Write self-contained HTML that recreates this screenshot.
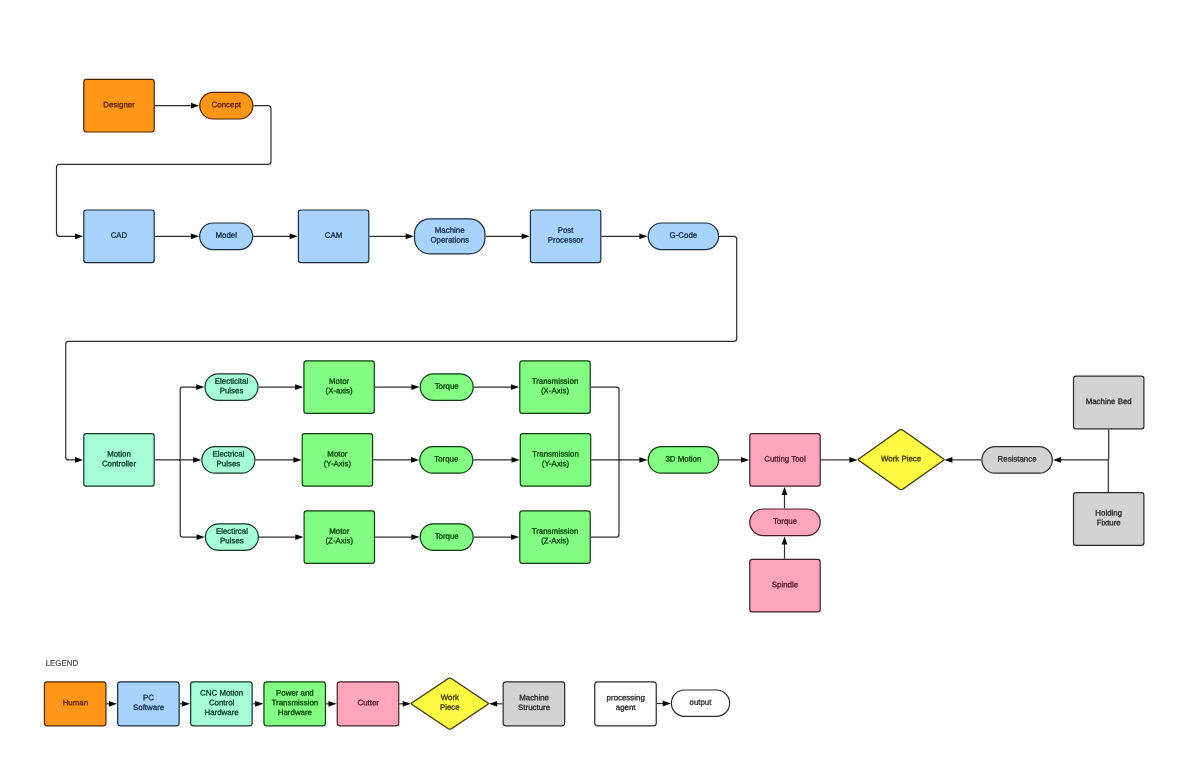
<!DOCTYPE html>
<html lang="en">
<head>
<meta charset="utf-8">
<title>CNC Process Flow</title>
<style>
html,body{margin:0;padding:0;background:#fff;}
body{width:1200px;height:776px;overflow:hidden;}
svg{display:block;will-change:transform;}
svg text{font-family:"Liberation Sans",sans-serif;stroke-width:0.3px;text-rendering:geometricPrecision;}
</style>
</head>
<body>
<svg role="img" aria-label="CNC machining process flow diagram" width="1200" height="776" viewBox="0 0 1200 776">
<rect x="0" y="0" width="1200" height="776" fill="#ffffff"/>
<path d="M154.80 105.70 L192.64 105.70" fill="none" stroke="#2e2e2e" stroke-width="1.2"/>
<path d="M199.20 105.70 L191.00 108.60 L191.00 102.80 Z" fill="#0a0a0a"/>
<path d="M253.40 105.70 L268.00 105.70 Q271.00 105.70 271.00 108.70 L271.00 161.45 Q271.00 164.45 268.00 164.45 L59.50 164.45 Q56.50 164.45 56.50 167.45 L56.50 233.30 Q56.50 236.30 59.50 236.30 L76.64 236.30" fill="none" stroke="#2e2e2e" stroke-width="1.2"/>
<path d="M83.20 236.30 L75.00 239.20 L75.00 233.40 Z" fill="#0a0a0a"/>
<path d="M154.80 236.30 L192.54 236.30" fill="none" stroke="#2e2e2e" stroke-width="1.2"/>
<path d="M199.10 236.30 L190.90 239.20 L190.90 233.40 Z" fill="#0a0a0a"/>
<path d="M253.30 236.30 L291.24 236.30" fill="none" stroke="#2e2e2e" stroke-width="1.2"/>
<path d="M297.80 236.30 L289.60 239.20 L289.60 233.40 Z" fill="#0a0a0a"/>
<path d="M369.40 236.30 L407.34 236.30" fill="none" stroke="#2e2e2e" stroke-width="1.2"/>
<path d="M413.90 236.30 L405.70 239.20 L405.70 233.40 Z" fill="#0a0a0a"/>
<path d="M485.50 236.30 L523.24 236.30" fill="none" stroke="#2e2e2e" stroke-width="1.2"/>
<path d="M529.80 236.30 L521.60 239.20 L521.60 233.40 Z" fill="#0a0a0a"/>
<path d="M601.40 236.30 L641.04 236.30" fill="none" stroke="#2e2e2e" stroke-width="1.2"/>
<path d="M647.60 236.30 L639.40 239.20 L639.40 233.40 Z" fill="#0a0a0a"/>
<path d="M719.20 236.30 L733.70 236.30 Q736.70 236.30 736.70 239.30 L736.70 338.45 Q736.70 341.45 733.70 341.45 L68.70 341.45 Q65.70 341.45 65.70 344.45 L65.70 456.90 Q65.70 459.90 68.70 459.90 L76.64 459.90" fill="none" stroke="#2e2e2e" stroke-width="1.2"/>
<path d="M83.20 459.90 L75.00 462.80 L75.00 457.00 Z" fill="#0a0a0a"/>
<path d="M154.80 459.90 L194.74 459.90" fill="none" stroke="#2e2e2e" stroke-width="1.2"/>
<path d="M201.30 459.90 L193.10 462.80 L193.10 457.00 Z" fill="#0a0a0a"/>
<path d="M180.20 459.90 L180.20 389.60 Q180.20 387.10 182.70 387.10 L197.84 387.10" fill="none" stroke="#2e2e2e" stroke-width="1.2"/>
<path d="M204.40 387.10 L196.20 390.00 L196.20 384.20 Z" fill="#0a0a0a"/>
<path d="M180.20 459.90 L180.20 534.60 Q180.20 537.10 182.70 537.10 L198.24 537.10" fill="none" stroke="#2e2e2e" stroke-width="1.2"/>
<path d="M204.80 537.10 L196.60 540.00 L196.60 534.20 Z" fill="#0a0a0a"/>
<circle cx="179.70" cy="459.90" r="1.0" fill="#2e2e2e"/>
<path d="M258.60 387.10 L296.74 387.10" fill="none" stroke="#2e2e2e" stroke-width="1.2"/>
<path d="M303.30 387.10 L295.10 390.00 L295.10 384.20 Z" fill="#0a0a0a"/>
<path d="M255.50 459.90 L295.04 459.90" fill="none" stroke="#2e2e2e" stroke-width="1.2"/>
<path d="M301.60 459.90 L293.40 462.80 L293.40 457.00 Z" fill="#0a0a0a"/>
<path d="M259.00 537.10 L296.94 537.10" fill="none" stroke="#2e2e2e" stroke-width="1.2"/>
<path d="M303.50 537.10 L295.30 540.00 L295.30 534.20 Z" fill="#0a0a0a"/>
<path d="M374.90 387.10 L413.04 387.10" fill="none" stroke="#2e2e2e" stroke-width="1.2"/>
<path d="M419.60 387.10 L411.40 390.00 L411.40 384.20 Z" fill="#0a0a0a"/>
<path d="M373.20 459.90 L412.64 459.90" fill="none" stroke="#2e2e2e" stroke-width="1.2"/>
<path d="M419.20 459.90 L411.00 462.80 L411.00 457.00 Z" fill="#0a0a0a"/>
<path d="M375.10 537.10 L413.04 537.10" fill="none" stroke="#2e2e2e" stroke-width="1.2"/>
<path d="M419.60 537.10 L411.40 540.00 L411.40 534.20 Z" fill="#0a0a0a"/>
<path d="M473.80 387.10 L512.64 387.10" fill="none" stroke="#2e2e2e" stroke-width="1.2"/>
<path d="M519.20 387.10 L511.00 390.00 L511.00 384.20 Z" fill="#0a0a0a"/>
<path d="M473.40 459.90 L513.14 459.90" fill="none" stroke="#2e2e2e" stroke-width="1.2"/>
<path d="M519.70 459.90 L511.50 462.80 L511.50 457.00 Z" fill="#0a0a0a"/>
<path d="M473.80 537.10 L512.64 537.10" fill="none" stroke="#2e2e2e" stroke-width="1.2"/>
<path d="M519.20 537.10 L511.00 540.00 L511.00 534.20 Z" fill="#0a0a0a"/>
<path d="M590.80 387.10 L616.50 387.10 Q619.00 387.10 619.00 389.60 L619.00 459.90" fill="none" stroke="#2e2e2e" stroke-width="1.2"/>
<path d="M590.80 537.10 L616.50 537.10 Q619.00 537.10 619.00 534.60 L619.00 459.90" fill="none" stroke="#2e2e2e" stroke-width="1.2"/>
<circle cx="619.50" cy="459.90" r="1.0" fill="#2e2e2e"/>
<path d="M591.30 459.90 L641.04 459.90" fill="none" stroke="#2e2e2e" stroke-width="1.2"/>
<path d="M647.60 459.90 L639.40 462.80 L639.40 457.00 Z" fill="#0a0a0a"/>
<path d="M719.20 459.90 L742.64 459.90" fill="none" stroke="#2e2e2e" stroke-width="1.2"/>
<path d="M749.20 459.90 L741.00 462.80 L741.00 457.00 Z" fill="#0a0a0a"/>
<path d="M820.80 459.90 L851.04 459.90" fill="none" stroke="#2e2e2e" stroke-width="1.2"/>
<path d="M857.60 459.90 L849.40 462.80 L849.40 457.00 Z" fill="#0a0a0a"/>
<path d="M981.30 459.90 L950.76 459.90" fill="none" stroke="#2e2e2e" stroke-width="1.2"/>
<path d="M944.20 459.90 L952.40 457.00 L952.40 462.80 Z" fill="#0a0a0a"/>
<path d="M1108.70 429.40 L1108.70 458.70 Q1108.70 459.90 1107.50 459.90 L1059.46 459.90" fill="none" stroke="#2e2e2e" stroke-width="1.2"/>
<path d="M1052.90 459.90 L1061.10 457.00 L1061.10 462.80 Z" fill="#0a0a0a"/>
<path d="M1108.30 492.10 L1108.30 459.90" fill="none" stroke="#2e2e2e" stroke-width="1.2"/>
<path d="M784.50 558.70 L784.50 542.76" fill="none" stroke="#2e2e2e" stroke-width="1.2"/>
<path d="M784.50 536.20 L787.40 544.40 L781.60 544.40 Z" fill="#0a0a0a"/>
<path d="M784.50 508.40 L784.50 493.36" fill="none" stroke="#2e2e2e" stroke-width="1.2"/>
<path d="M784.50 486.80 L787.40 495.00 L781.60 495.00 Z" fill="#0a0a0a"/>
<rect x="83.80" y="79.40" width="70.40" height="52.60" rx="2.4" ry="2.4" fill="#FE9718" stroke="#4d2300" stroke-width="1.2"/>
<text x="119.00" y="107.25" transform="rotate(0.03 119.00 107.25)" font-size="7.9" text-anchor="middle" fill="#5c1e00" stroke="#5c1e00">Designer</text>
<rect x="199.80" y="92.40" width="53.00" height="26.60" rx="13.30" ry="13.30" fill="#FE9718" stroke="#4d2300" stroke-width="1.2"/>
<text x="226.30" y="107.25" transform="rotate(0.03 226.30 107.25)" font-size="7.9" text-anchor="middle" fill="#5c1e00" stroke="#5c1e00">Concept</text>
<rect x="83.80" y="210.00" width="70.40" height="52.60" rx="2.4" ry="2.4" fill="#A7D3FC" stroke="#1c2d3e" stroke-width="1.2"/>
<text x="119.00" y="237.85" transform="rotate(0.03 119.00 237.85)" font-size="7.9" text-anchor="middle" fill="#132d46" stroke="#132d46">CAD</text>
<rect x="199.70" y="223.00" width="53.00" height="26.60" rx="13.30" ry="13.30" fill="#A7D3FC" stroke="#1c2d3e" stroke-width="1.2"/>
<text x="226.20" y="237.85" transform="rotate(0.03 226.20 237.85)" font-size="7.9" text-anchor="middle" fill="#132d46" stroke="#132d46">Model</text>
<rect x="298.40" y="210.00" width="70.40" height="52.60" rx="2.4" ry="2.4" fill="#A7D3FC" stroke="#1c2d3e" stroke-width="1.2"/>
<text x="333.60" y="237.85" transform="rotate(0.03 333.60 237.85)" font-size="7.9" text-anchor="middle" fill="#132d46" stroke="#132d46">CAM</text>
<rect x="414.50" y="218.80" width="70.40" height="35.00" rx="15.30" ry="15.30" fill="#A7D3FC" stroke="#1c2d3e" stroke-width="1.2"/>
<text x="449.70" y="232.85" transform="rotate(0.03 449.70 232.85)" font-size="7.9" text-anchor="middle" fill="#132d46" stroke="#132d46">Machine</text>
<text x="449.70" y="242.55" transform="rotate(0.03 449.70 242.55)" font-size="7.9" text-anchor="middle" fill="#132d46" stroke="#132d46">Operations</text>
<rect x="530.40" y="210.00" width="70.40" height="52.60" rx="2.4" ry="2.4" fill="#A7D3FC" stroke="#1c2d3e" stroke-width="1.2"/>
<text x="565.60" y="232.85" transform="rotate(0.03 565.60 232.85)" font-size="7.9" text-anchor="middle" fill="#132d46" stroke="#132d46">Post</text>
<text x="565.60" y="242.55" transform="rotate(0.03 565.60 242.55)" font-size="7.9" text-anchor="middle" fill="#132d46" stroke="#132d46">Processor</text>
<rect x="648.20" y="223.00" width="70.40" height="26.60" rx="13.30" ry="13.30" fill="#A7D3FC" stroke="#1c2d3e" stroke-width="1.2"/>
<text x="683.40" y="237.85" transform="rotate(0.03 683.40 237.85)" font-size="7.9" text-anchor="middle" fill="#132d46" stroke="#132d46">G-Code</text>
<rect x="83.80" y="433.60" width="70.40" height="52.60" rx="2.4" ry="2.4" fill="#A6FCD6" stroke="#143627" stroke-width="1.2"/>
<text x="119.00" y="456.45" transform="rotate(0.03 119.00 456.45)" font-size="7.9" text-anchor="middle" fill="#063a23" stroke="#063a23">Motion</text>
<text x="119.00" y="466.15" transform="rotate(0.03 119.00 466.15)" font-size="7.9" text-anchor="middle" fill="#063a23" stroke="#063a23">Controller</text>
<rect x="205.00" y="373.80" width="53.00" height="26.60" rx="13.30" ry="13.30" fill="#A6FCD6" stroke="#143627" stroke-width="1.2"/>
<text x="231.50" y="383.65" transform="rotate(0.03 231.50 383.65)" font-size="7.9" text-anchor="middle" fill="#063a23" stroke="#063a23">Electicital</text>
<text x="231.50" y="393.35" transform="rotate(0.03 231.50 393.35)" font-size="7.9" text-anchor="middle" fill="#063a23" stroke="#063a23">Pulses</text>
<rect x="201.90" y="446.60" width="53.00" height="26.60" rx="13.30" ry="13.30" fill="#A6FCD6" stroke="#143627" stroke-width="1.2"/>
<text x="228.40" y="456.45" transform="rotate(0.03 228.40 456.45)" font-size="7.9" text-anchor="middle" fill="#063a23" stroke="#063a23">Electrical</text>
<text x="228.40" y="466.15" transform="rotate(0.03 228.40 466.15)" font-size="7.9" text-anchor="middle" fill="#063a23" stroke="#063a23">Pulses</text>
<rect x="205.40" y="523.80" width="53.00" height="26.60" rx="13.30" ry="13.30" fill="#A6FCD6" stroke="#143627" stroke-width="1.2"/>
<text x="231.90" y="533.65" transform="rotate(0.03 231.90 533.65)" font-size="7.9" text-anchor="middle" fill="#063a23" stroke="#063a23">Electircal</text>
<text x="231.90" y="543.35" transform="rotate(0.03 231.90 543.35)" font-size="7.9" text-anchor="middle" fill="#063a23" stroke="#063a23">Pulses</text>
<rect x="303.90" y="360.80" width="70.40" height="52.60" rx="2.4" ry="2.4" fill="#83FD83" stroke="#0d3e0d" stroke-width="1.2"/>
<text x="339.10" y="383.65" transform="rotate(0.03 339.10 383.65)" font-size="7.9" text-anchor="middle" fill="#004600" stroke="#004600">Motor</text>
<text x="339.10" y="393.35" transform="rotate(0.03 339.10 393.35)" font-size="7.9" text-anchor="middle" fill="#004600" stroke="#004600">(X-axis)</text>
<rect x="302.20" y="433.60" width="70.40" height="52.60" rx="2.4" ry="2.4" fill="#83FD83" stroke="#0d3e0d" stroke-width="1.2"/>
<text x="337.40" y="456.45" transform="rotate(0.03 337.40 456.45)" font-size="7.9" text-anchor="middle" fill="#004600" stroke="#004600">Motor</text>
<text x="337.40" y="466.15" transform="rotate(0.03 337.40 466.15)" font-size="7.9" text-anchor="middle" fill="#004600" stroke="#004600">(Y-Axis)</text>
<rect x="304.10" y="510.80" width="70.40" height="52.60" rx="2.4" ry="2.4" fill="#83FD83" stroke="#0d3e0d" stroke-width="1.2"/>
<text x="339.30" y="533.65" transform="rotate(0.03 339.30 533.65)" font-size="7.9" text-anchor="middle" fill="#004600" stroke="#004600">Motor</text>
<text x="339.30" y="543.35" transform="rotate(0.03 339.30 543.35)" font-size="7.9" text-anchor="middle" fill="#004600" stroke="#004600">(Z-Axis)</text>
<rect x="420.20" y="373.80" width="53.00" height="26.60" rx="13.30" ry="13.30" fill="#83FD83" stroke="#0d3e0d" stroke-width="1.2"/>
<text x="446.70" y="388.65" transform="rotate(0.03 446.70 388.65)" font-size="7.9" text-anchor="middle" fill="#004600" stroke="#004600">Torque</text>
<rect x="419.80" y="446.60" width="53.00" height="26.60" rx="13.30" ry="13.30" fill="#83FD83" stroke="#0d3e0d" stroke-width="1.2"/>
<text x="446.30" y="461.45" transform="rotate(0.03 446.30 461.45)" font-size="7.9" text-anchor="middle" fill="#004600" stroke="#004600">Torque</text>
<rect x="420.20" y="523.80" width="53.00" height="26.60" rx="13.30" ry="13.30" fill="#83FD83" stroke="#0d3e0d" stroke-width="1.2"/>
<text x="446.70" y="538.65" transform="rotate(0.03 446.70 538.65)" font-size="7.9" text-anchor="middle" fill="#004600" stroke="#004600">Torque</text>
<rect x="519.80" y="360.80" width="70.40" height="52.60" rx="2.4" ry="2.4" fill="#83FD83" stroke="#0d3e0d" stroke-width="1.2"/>
<text x="555.00" y="383.65" transform="rotate(0.03 555.00 383.65)" font-size="7.9" text-anchor="middle" fill="#004600" stroke="#004600">Transmission</text>
<text x="555.00" y="393.35" transform="rotate(0.03 555.00 393.35)" font-size="7.9" text-anchor="middle" fill="#004600" stroke="#004600">(X-Axis)</text>
<rect x="520.30" y="433.60" width="70.40" height="52.60" rx="2.4" ry="2.4" fill="#83FD83" stroke="#0d3e0d" stroke-width="1.2"/>
<text x="555.50" y="456.45" transform="rotate(0.03 555.50 456.45)" font-size="7.9" text-anchor="middle" fill="#004600" stroke="#004600">Transmission</text>
<text x="555.50" y="466.15" transform="rotate(0.03 555.50 466.15)" font-size="7.9" text-anchor="middle" fill="#004600" stroke="#004600">(Y-Axis)</text>
<rect x="519.80" y="510.80" width="70.40" height="52.60" rx="2.4" ry="2.4" fill="#83FD83" stroke="#0d3e0d" stroke-width="1.2"/>
<text x="555.00" y="533.65" transform="rotate(0.03 555.00 533.65)" font-size="7.9" text-anchor="middle" fill="#004600" stroke="#004600">Transmission</text>
<text x="555.00" y="543.35" transform="rotate(0.03 555.00 543.35)" font-size="7.9" text-anchor="middle" fill="#004600" stroke="#004600">(Z-Axis)</text>
<rect x="648.20" y="446.60" width="70.40" height="26.60" rx="13.30" ry="13.30" fill="#83FD83" stroke="#0d3e0d" stroke-width="1.2"/>
<text x="683.40" y="461.45" transform="rotate(0.03 683.40 461.45)" font-size="7.9" text-anchor="middle" fill="#004600" stroke="#004600">3D Motion</text>
<rect x="749.80" y="433.60" width="70.40" height="52.60" rx="2.4" ry="2.4" fill="#FFA6BD" stroke="#421e28" stroke-width="1.2"/>
<text x="785.00" y="461.45" transform="rotate(0.03 785.00 461.45)" font-size="7.9" text-anchor="middle" fill="#4c1624" stroke="#4c1624">Cutting Tool</text>
<rect x="749.80" y="509.00" width="70.40" height="26.60" rx="13.30" ry="13.30" fill="#FFA6BD" stroke="#421e28" stroke-width="1.2"/>
<text x="785.00" y="523.85" transform="rotate(0.03 785.00 523.85)" font-size="7.9" text-anchor="middle" fill="#4c1624" stroke="#4c1624">Torque</text>
<rect x="749.80" y="559.30" width="70.40" height="52.60" rx="2.4" ry="2.4" fill="#FFA6BD" stroke="#421e28" stroke-width="1.2"/>
<text x="785.00" y="587.15" transform="rotate(0.03 785.00 587.15)" font-size="7.9" text-anchor="middle" fill="#4c1624" stroke="#4c1624">Spindle</text>
<path d="M858.58 460.22 Q857.70 459.60 858.58 458.98 L899.19 430.25 Q901.10 428.90 903.01 430.25 L943.62 458.98 Q944.50 459.60 943.62 460.22 L903.01 488.95 Q901.10 490.30 899.19 488.95 Z" fill="#FFFB43" stroke="#343200" stroke-width="1.2" stroke-linejoin="round"/>
<text x="901.10" y="461.15" transform="rotate(0.03 901.10 461.15)" font-size="7.9" text-anchor="middle" fill="#363400" stroke="#363400">Work Piece</text>
<rect x="981.90" y="446.60" width="70.40" height="26.60" rx="13.30" ry="13.30" fill="#D3D3D3" stroke="#2a2a2a" stroke-width="1.2"/>
<text x="1017.10" y="461.45" transform="rotate(0.03 1017.10 461.45)" font-size="7.9" text-anchor="middle" fill="#282828" stroke="#282828">Resistance</text>
<rect x="1073.50" y="376.20" width="70.40" height="52.60" rx="2.4" ry="2.4" fill="#D3D3D3" stroke="#2a2a2a" stroke-width="1.2"/>
<text x="1108.70" y="404.05" transform="rotate(0.03 1108.70 404.05)" font-size="7.9" text-anchor="middle" fill="#282828" stroke="#282828">Machine Bed</text>
<rect x="1073.50" y="492.70" width="70.40" height="52.60" rx="2.4" ry="2.4" fill="#D3D3D3" stroke="#2a2a2a" stroke-width="1.2"/>
<text x="1108.70" y="515.55" transform="rotate(0.03 1108.70 515.55)" font-size="7.9" text-anchor="middle" fill="#282828" stroke="#282828">Holding</text>
<text x="1108.70" y="525.25" transform="rotate(0.03 1108.70 525.25)" font-size="7.9" text-anchor="middle" fill="#282828" stroke="#282828">Fixture</text>
<text x="45.70" y="665.70" transform="rotate(0.03 45.70 665.70)" font-size="7.9" text-anchor="start" fill="#333333" stroke="#333333" style="stroke-width:0.12px">LEGEND</text>
<path d="M106.55 703.80 L110.49 703.80" fill="none" stroke="#2e2e2e" stroke-width="1.2"/>
<path d="M117.05 703.80 L108.85 706.70 L108.85 700.90 Z" fill="#0a0a0a"/>
<path d="M179.75 703.80 L183.49 703.80" fill="none" stroke="#2e2e2e" stroke-width="1.2"/>
<path d="M190.05 703.80 L181.85 706.70 L181.85 700.90 Z" fill="#0a0a0a"/>
<path d="M252.75 703.80 L256.79 703.80" fill="none" stroke="#2e2e2e" stroke-width="1.2"/>
<path d="M263.35 703.80 L255.15 706.70 L255.15 700.90 Z" fill="#0a0a0a"/>
<path d="M326.05 703.80 L330.09 703.80" fill="none" stroke="#2e2e2e" stroke-width="1.2"/>
<path d="M336.65 703.80 L328.45 706.70 L328.45 700.90 Z" fill="#0a0a0a"/>
<path d="M399.35 703.80 L404.34 703.80" fill="none" stroke="#2e2e2e" stroke-width="1.2"/>
<path d="M410.90 703.80 L402.70 706.70 L402.70 700.90 Z" fill="#0a0a0a"/>
<path d="M502.55 703.80 L495.46 703.80" fill="none" stroke="#2e2e2e" stroke-width="1.2"/>
<path d="M488.90 703.80 L497.10 700.90 L497.10 706.70 Z" fill="#0a0a0a"/>
<path d="M656.85 703.50 L664.34 703.50" fill="none" stroke="#2e2e2e" stroke-width="1.2"/>
<path d="M670.90 703.50 L662.70 706.40 L662.70 700.60 Z" fill="#0a0a0a"/>
<rect x="44.45" y="681.80" width="61.50" height="44.00" rx="2.8" ry="2.8" fill="#FE9718" stroke="#4d2300" stroke-width="1.2"/>
<text x="75.40" y="705.35" transform="rotate(0.03 75.40 705.35)" font-size="7.9" text-anchor="middle" fill="#5c1e00" stroke="#5c1e00">Human</text>
<rect x="117.65" y="681.80" width="61.50" height="44.00" rx="2.8" ry="2.8" fill="#A7D3FC" stroke="#1c2d3e" stroke-width="1.2"/>
<text x="148.60" y="700.35" transform="rotate(0.03 148.60 700.35)" font-size="7.9" text-anchor="middle" fill="#132d46" stroke="#132d46">PC</text>
<text x="148.60" y="710.05" transform="rotate(0.03 148.60 710.05)" font-size="7.9" text-anchor="middle" fill="#132d46" stroke="#132d46">Software</text>
<rect x="190.65" y="681.80" width="61.50" height="44.00" rx="2.8" ry="2.8" fill="#A6FCD6" stroke="#143627" stroke-width="1.2"/>
<text x="221.60" y="695.50" transform="rotate(0.03 221.60 695.50)" font-size="7.9" text-anchor="middle" fill="#063a23" stroke="#063a23">CNC Motion</text>
<text x="221.60" y="705.20" transform="rotate(0.03 221.60 705.20)" font-size="7.9" text-anchor="middle" fill="#063a23" stroke="#063a23">Control</text>
<text x="221.60" y="714.90" transform="rotate(0.03 221.60 714.90)" font-size="7.9" text-anchor="middle" fill="#063a23" stroke="#063a23">Hardware</text>
<rect x="263.95" y="681.80" width="61.50" height="44.00" rx="2.8" ry="2.8" fill="#83FD83" stroke="#0d3e0d" stroke-width="1.2"/>
<text x="294.90" y="695.50" transform="rotate(0.03 294.90 695.50)" font-size="7.9" text-anchor="middle" fill="#004600" stroke="#004600">Power and</text>
<text x="294.90" y="705.20" transform="rotate(0.03 294.90 705.20)" font-size="7.9" text-anchor="middle" fill="#004600" stroke="#004600">Transmission</text>
<text x="294.90" y="714.90" transform="rotate(0.03 294.90 714.90)" font-size="7.9" text-anchor="middle" fill="#004600" stroke="#004600">Hardware</text>
<rect x="337.25" y="681.80" width="61.50" height="44.00" rx="2.8" ry="2.8" fill="#FFA6BD" stroke="#421e28" stroke-width="1.2"/>
<text x="368.20" y="705.35" transform="rotate(0.03 368.20 705.35)" font-size="7.9" text-anchor="middle" fill="#4c1624" stroke="#4c1624">Cutter</text>
<path d="M411.70 704.15 Q410.80 703.55 411.70 702.95 L447.91 678.70 Q449.85 677.40 451.79 678.70 L488.00 702.95 Q488.90 703.55 488.00 704.15 L451.79 728.40 Q449.85 729.70 447.91 728.40 Z" fill="#FFFB43" stroke="#343200" stroke-width="1.2" stroke-linejoin="round"/>
<text x="449.85" y="700.10" transform="rotate(0.03 449.85 700.10)" font-size="7.9" text-anchor="middle" fill="#363400" stroke="#363400">Work</text>
<text x="449.85" y="709.80" transform="rotate(0.03 449.85 709.80)" font-size="7.9" text-anchor="middle" fill="#363400" stroke="#363400">Piece</text>
<rect x="503.15" y="681.80" width="61.50" height="44.00" rx="2.8" ry="2.8" fill="#D3D3D3" stroke="#2a2a2a" stroke-width="1.2"/>
<text x="534.10" y="700.35" transform="rotate(0.03 534.10 700.35)" font-size="7.9" text-anchor="middle" fill="#282828" stroke="#282828">Machine</text>
<text x="534.10" y="710.05" transform="rotate(0.03 534.10 710.05)" font-size="7.9" text-anchor="middle" fill="#282828" stroke="#282828">Structure</text>
<rect x="594.75" y="681.80" width="61.50" height="44.00" rx="2.8" ry="2.8" fill="#FFFFFF" stroke="#2a2a2a" stroke-width="1.2"/>
<text x="625.70" y="700.35" transform="rotate(0.03 625.70 700.35)" font-size="7.9" text-anchor="middle" fill="#282828" stroke="#282828">processing</text>
<text x="625.70" y="710.05" transform="rotate(0.03 625.70 710.05)" font-size="7.9" text-anchor="middle" fill="#282828" stroke="#282828">agent</text>
<rect x="671.40" y="690.00" width="58.20" height="26.40" rx="13.20" ry="13.20" fill="#FFFFFF" stroke="#2a2a2a" stroke-width="1.2"/>
<text x="700.50" y="704.75" transform="rotate(0.03 700.50 704.75)" font-size="7.9" text-anchor="middle" fill="#282828" stroke="#282828">output</text>
</svg>
</body>
</html>
